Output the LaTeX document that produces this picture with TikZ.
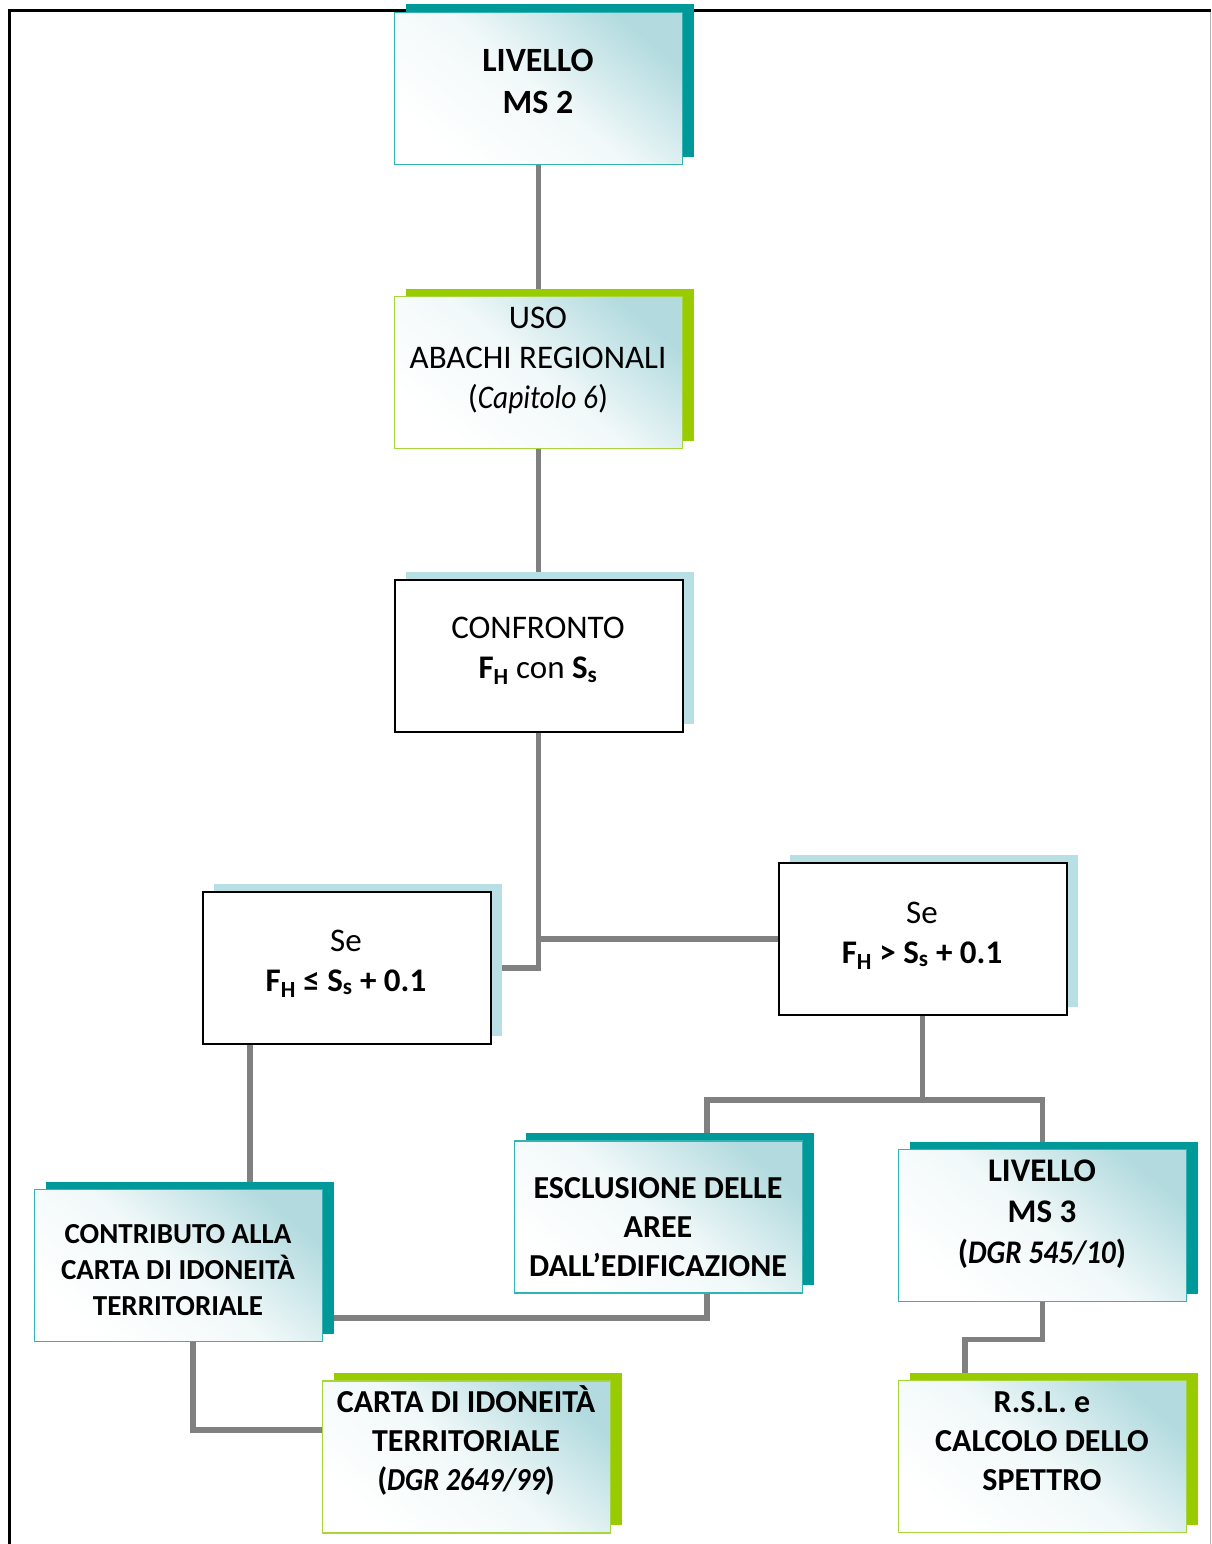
\documentclass[tikz,border=0pt]{standalone}
\usepackage{fontspec}
\setmainfont{Carlito}
\newfontfamily\itn{Carlito}[FakeStretch=0.89]
\newcommand{\nit}[1]{{\itn\itshape #1}}
\pgfdeclarelayer{bg}
\pgfdeclarelayer{shad}
\pgfsetlayers{bg,shad,main}
\definecolor{tealdk}{HTML}{009999}
\definecolor{tealbd}{HTML}{33B3B3}
\definecolor{grn}{HTML}{99CC00}
\definecolor{grnbd}{HTML}{A8D63A}
\definecolor{lblue}{HTML}{B8DFE3}
\definecolor{gfill}{HTML}{B3DBDF}
\definecolor{conncol}{HTML}{808080}
\tikzset{
  frontbox/.style={minimum width=288pt, minimum height=152pt, inner sep=0pt, outer sep=0pt},
  gradbox/.style={frontbox, line width=1.5pt, top color=gfill, bottom color=white, middle color=white!82!gfill, shading angle=-40},
  tealbox/.style={gradbox, draw=tealbd},
  grnbox/.style={gradbox, draw=grnbd},
  plainbox/.style={frontbox, draw=black, line width=2pt, fill=white},
  conn/.style={draw=conncol, line width=5.5pt},
  txt/.style={align=center, inner sep=0pt},
  fA/.style={font=\fontsize{34pt}{42pt}\selectfont\bfseries},
  fB/.style={font=\fontsize{33pt}{40pt}\selectfont},
  fC/.style={font=\fontsize{29pt}{36pt}\selectfont\bfseries},
  fD/.style={font=\fontsize{32pt}{39pt}\selectfont\bfseries},
  fE/.style={font=\fontsize{33pt}{41pt}\selectfont\bfseries},
}
\newcommand{\shadowof}[2]{\fill[#1] ([shift={(11pt,8pt)}]#2.south west) rectangle ([shift={(11pt,8pt)}]#2.north east);}
\begin{document}
\begin{tikzpicture}[x=1pt,y=-1pt]
\useasboundingbox (0,0) rectangle (1211,1544);
% boxes
\node[tealbox]  (b1)  at (538.5,88.5) {};
\node[grnbox]   (b2)  at (538.5,372.5) {};
\node[plainbox] (b3)  at (538.5,656) {};
\node[plainbox] (b4)  at (346.5,968) {};
\node[plainbox] (b5)  at (922.5,939) {};
\node[tealbox]  (b6)  at (178.5,1265.5) {};
\node[tealbox]  (b7)  at (658.5,1217) {};
\node[tealbox]  (b8)  at (1042.5,1225.5) {};
\node[grnbox]   (b9)  at (466.5,1457) {};
\node[grnbox]   (b10) at (1042.5,1456.5) {};
% texts
\node[txt,fA] (t1) at (538,81) {LIVELLO\\MS 2};
\node[txt,fB] (t2) at (538,360.5) {USO\\ABACHI REGIONALI\\(\nit{Capitolo 6})};
\node[txt,fB] (t3) at (538,651) {CONFRONTO\\\textbf{F\textsubscript{H}} con \textbf{S\textsubscript{s}}};
\node[txt,fB] (t4) at (346,963.5) {Se\\\textbf{F\textsubscript{H} ≤ S\textsubscript{s} + 0.1}};
\node[txt,fB] (t5) at (922,935.5) {Se\\\textbf{F\textsubscript{H} > S\textsubscript{s} + 0.1}};
\node[txt,fC] (t6) at (178,1270) {CONTRIBUTO ALLA\\CARTA DI IDONEITÀ\\TERRITORIALE};
\node[txt,fD] (t7) at (658,1227) {ESCLUSIONE DELLE\\AREE\\DALL’EDIFICAZIONE};
\node[txt,fE] (t8) at (1042,1214) {LIVELLO\\MS 3\\(\nit{DGR 545/10})};
\node[txt,fD] (t9) at (466,1440.5) {CARTA DI IDONEITÀ\\TERRITORIALE\\(\nit{DGR 2649/99})};
\node[txt,fD] (t10) at (1042,1441) {R.S.L. e\\CALCOLO DELLO\\SPETTRO};
% shadows
\begin{pgfonlayer}{shad}
\shadowof{tealdk}{b1}
\shadowof{grn}{b2}
\shadowof{lblue}{b3}
\shadowof{lblue}{b4}
\shadowof{lblue}{b5}
\shadowof{tealdk}{b6}
\shadowof{tealdk}{b7}
\shadowof{tealdk}{b8}
\shadowof{grn}{b9}
\shadowof{grn}{b10}
\end{pgfonlayer}
% frame and connectors
\begin{pgfonlayer}{bg}
\draw[line width=3pt] (7.5,11) -- (1211,11);
\draw[line width=3pt] (9,9.5) -- (9,1544);
\draw[line width=1pt, black!30] (1210,12) -- (1210,1544);
\draw[conn] (b1.south) -- (b2.north);
\draw[conn] (b2.south) -- (b3.north);
\draw[conn] (b3.south) |- (b5.west);
\draw[conn] (b3.south) |- (b4.east);
\draw[conn] (b5.south) -- ++(0,85) coordinate (j1);
\draw[conn] (j1) -| ([xshift=48.5pt]b7.north);
\draw[conn] (j1) -| (b8.north);
\coordinate (c4) at ([xshift=-96.5pt]b4.south);
\draw[conn] (c4) -- (c4 |- b6.north);
\draw[conn] ([yshift=-52.5pt]b6.east) -| ([xshift=48.5pt]b7.south);
\draw[conn] ([xshift=14.5pt]b6.south) |- ([yshift=27pt]b9.west);
\draw[conn] (b8.south) -- ++(0,38) -| ([xshift=-77.5pt]b10.north);
\end{pgfonlayer}
\end{tikzpicture}
\end{document}
